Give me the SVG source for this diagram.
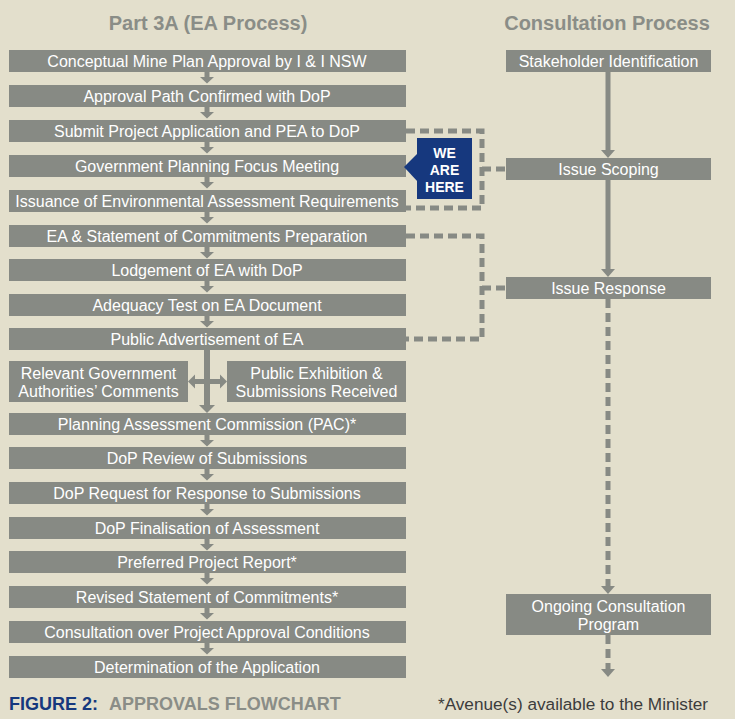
<svg xmlns="http://www.w3.org/2000/svg" width="735" height="719" viewBox="0 0 735 719">
<style>
.bg{fill:#e3dfcc}
.box{fill:#878a84}
.t{fill:#ffffff;font-family:"Liberation Sans",Arial,sans-serif;font-size:16px;text-anchor:middle}
.h{fill:#8a8d87;font-family:"Liberation Sans",Arial,sans-serif;font-size:20px;font-weight:bold;text-anchor:middle}
.dash{fill:none;stroke:#878a84;stroke-width:5;stroke-dasharray:9 5}
.solid{fill:#878a84}
.we{fill:#ffffff;font-family:"Liberation Sans",Arial,sans-serif;font-size:14px;font-weight:bold;text-anchor:middle}
</style>
<defs>
<path id="dn" d="M-2.5,0 h5 v5 h4.5 l-7,6.5 l-7,-6.5 h4.5 z" fill="#878a84"/>
</defs>
<rect class="bg" x="0" y="0" width="735" height="719"/>
<text class="h" x="208" y="30">Part 3A (EA Process)</text>
<text class="h" x="607" y="30">Consultation Process</text>

<g id="connectors">
<use href="#dn" x="207" y="72"/>
<use href="#dn" x="207" y="107"/>
<use href="#dn" x="207" y="142"/>
<use href="#dn" x="207" y="177"/>
<use href="#dn" x="207" y="212"/>
<use href="#dn" x="207" y="247"/>
<use href="#dn" x="207" y="281"/>
<use href="#dn" x="207" y="316"/>
<rect class="solid" x="204" y="350" width="6" height="56"/>
<polygon class="solid" points="199,405 215,405 207,413"/>
<rect class="solid" x="193" y="379" width="28" height="5"/>
<polygon class="solid" points="188,381.5 195,374.5 195,388.5"/>
<polygon class="solid" points="227,381.5 220,374.5 220,388.5"/>
<use href="#dn" x="207" y="435"/>
<use href="#dn" x="207" y="469"/>
<use href="#dn" x="207" y="504"/>
<use href="#dn" x="207" y="539"/>
<use href="#dn" x="207" y="573"/>
<use href="#dn" x="207" y="608"/>
<use href="#dn" x="207" y="643"/>
<path class="dash" d="M406,131 H482 V208 H406"/>
<path class="dash" d="M482,169 H506"/>
<path class="dash" d="M406,236 H482 V339 H406"/>
<path class="dash" d="M482,288 H506"/>
<rect class="solid" x="605.5" y="72" width="5" height="79"/>
<polygon class="solid" points="601,150 615,150 608,158"/>
<rect class="solid" x="605.5" y="180" width="5" height="90"/>
<polygon class="solid" points="601,269 615,269 608,277"/>
<path class="dash" d="M608,299 V587" stroke-dasharray="10 6"/>
<polygon class="solid" points="601,586 615,586 608,594"/>
<path class="dash" d="M608,635 V670" stroke-dasharray="10 6"/>
<polygon class="solid" points="601,669 615,669 608,677"/>
</g>

<g id="n1"><rect class="box" x="9" y="50" width="397" height="22"/><text class="t" x="207" y="66.5">Conceptual Mine Plan Approval by I &amp; I NSW</text></g>
<g id="n2"><rect class="box" x="9" y="85" width="397" height="22"/><text class="t" x="207" y="101.5">Approval Path Confirmed with DoP</text></g>
<g id="n3"><rect class="box" x="9" y="120" width="397" height="22"/><text class="t" x="207" y="136.5">Submit Project Application and PEA to DoP</text></g>
<g id="n4"><rect class="box" x="9" y="155" width="397" height="22"/><text class="t" x="207" y="171.5">Government Planning Focus Meeting</text></g>
<g id="n5"><rect class="box" x="9" y="190" width="397" height="22"/><text class="t" x="207" y="206.5">Issuance of Environmental Assessment Requirements</text></g>
<g id="n6"><rect class="box" x="9" y="225" width="397" height="22"/><text class="t" x="207" y="241.5">EA &amp; Statement of Commitments Preparation</text></g>
<g id="n7"><rect class="box" x="9" y="259" width="397" height="22"/><text class="t" x="207" y="275.5">Lodgement of EA with DoP</text></g>
<g id="n8"><rect class="box" x="9" y="294" width="397" height="22"/><text class="t" x="207" y="310.5">Adequacy Test on EA Document</text></g>
<g id="n9"><rect class="box" x="9" y="328" width="397" height="22"/><text class="t" x="207" y="344.5">Public Advertisement of EA</text></g>
<g id="n10"><rect class="box" x="9" y="361" width="179" height="41"/><text class="t" x="98.5" y="378.5">Relevant Government</text><text class="t" x="98.5" y="396.5">Authorities’ Comments</text></g>
<g id="n11"><rect class="box" x="227" y="361" width="179" height="41"/><text class="t" x="316.5" y="378.5">Public Exhibition &amp;</text><text class="t" x="316.5" y="396.5">Submissions Received</text></g>
<g id="n12"><rect class="box" x="9" y="413" width="397" height="22"/><text class="t" x="207" y="429.5">Planning Assessment Commission (PAC)*</text></g>
<g id="n13"><rect class="box" x="9" y="447" width="397" height="22"/><text class="t" x="207" y="463.5">DoP Review of Submissions</text></g>
<g id="n14"><rect class="box" x="9" y="482" width="397" height="22"/><text class="t" x="207" y="498.5">DoP Request for Response to Submissions</text></g>
<g id="n15"><rect class="box" x="9" y="517" width="397" height="22"/><text class="t" x="207" y="533.5">DoP Finalisation of Assessment</text></g>
<g id="n16"><rect class="box" x="9" y="551" width="397" height="22"/><text class="t" x="207" y="567.5">Preferred Project Report*</text></g>
<g id="n17"><rect class="box" x="9" y="586" width="397" height="22"/><text class="t" x="207" y="602.5">Revised Statement of Commitments*</text></g>
<g id="n18"><rect class="box" x="9" y="621" width="397" height="22"/><text class="t" x="207" y="637.5">Consultation over Project Approval Conditions</text></g>
<g id="n19"><rect class="box" x="9" y="656" width="397" height="22"/><text class="t" x="207" y="672.5">Determination of the Application</text></g>

<g id="r1"><rect class="box" x="506" y="50" width="205" height="22"/><text class="t" x="608.5" y="66.5">Stakeholder Identification</text></g>
<g id="r2"><rect class="box" x="506" y="158" width="205" height="22"/><text class="t" x="608.5" y="174.5">Issue Scoping</text></g>
<g id="r3"><rect class="box" x="506" y="277" width="205" height="22"/><text class="t" x="608.5" y="293.5">Issue Response</text></g>
<g id="r4"><rect class="box" x="506" y="594" width="205" height="41"/><text class="t" x="608.5" y="611.5">Ongoing Consultation</text><text class="t" x="608.5" y="629.5">Program</text></g>

<g id="weAreHere">
<rect x="417" y="138" width="55" height="61" fill="#16387e"/>
<polygon points="404,167 418,153 418,182" fill="#16387e"/>
<text class="we" x="444.5" y="158">WE</text>
<text class="we" x="444.5" y="175">ARE</text>
<text class="we" x="444.5" y="192">HERE</text>
</g>

<g id="footer">
<text x="9" y="710" font-family="Liberation Sans, Arial, sans-serif" font-size="18" font-weight="bold" fill="#16387e">FIGURE 2:</text>
<text x="109" y="710" font-family="Liberation Sans, Arial, sans-serif" font-size="18" font-weight="bold" fill="#8a8d87">APPROVALS FLOWCHART</text>
<text x="708" y="710" text-anchor="end" font-family="Liberation Sans, Arial, sans-serif" font-size="17.2" fill="#3c3c3c">*Avenue(s) available to the Minister</text>
</g>
</svg>
